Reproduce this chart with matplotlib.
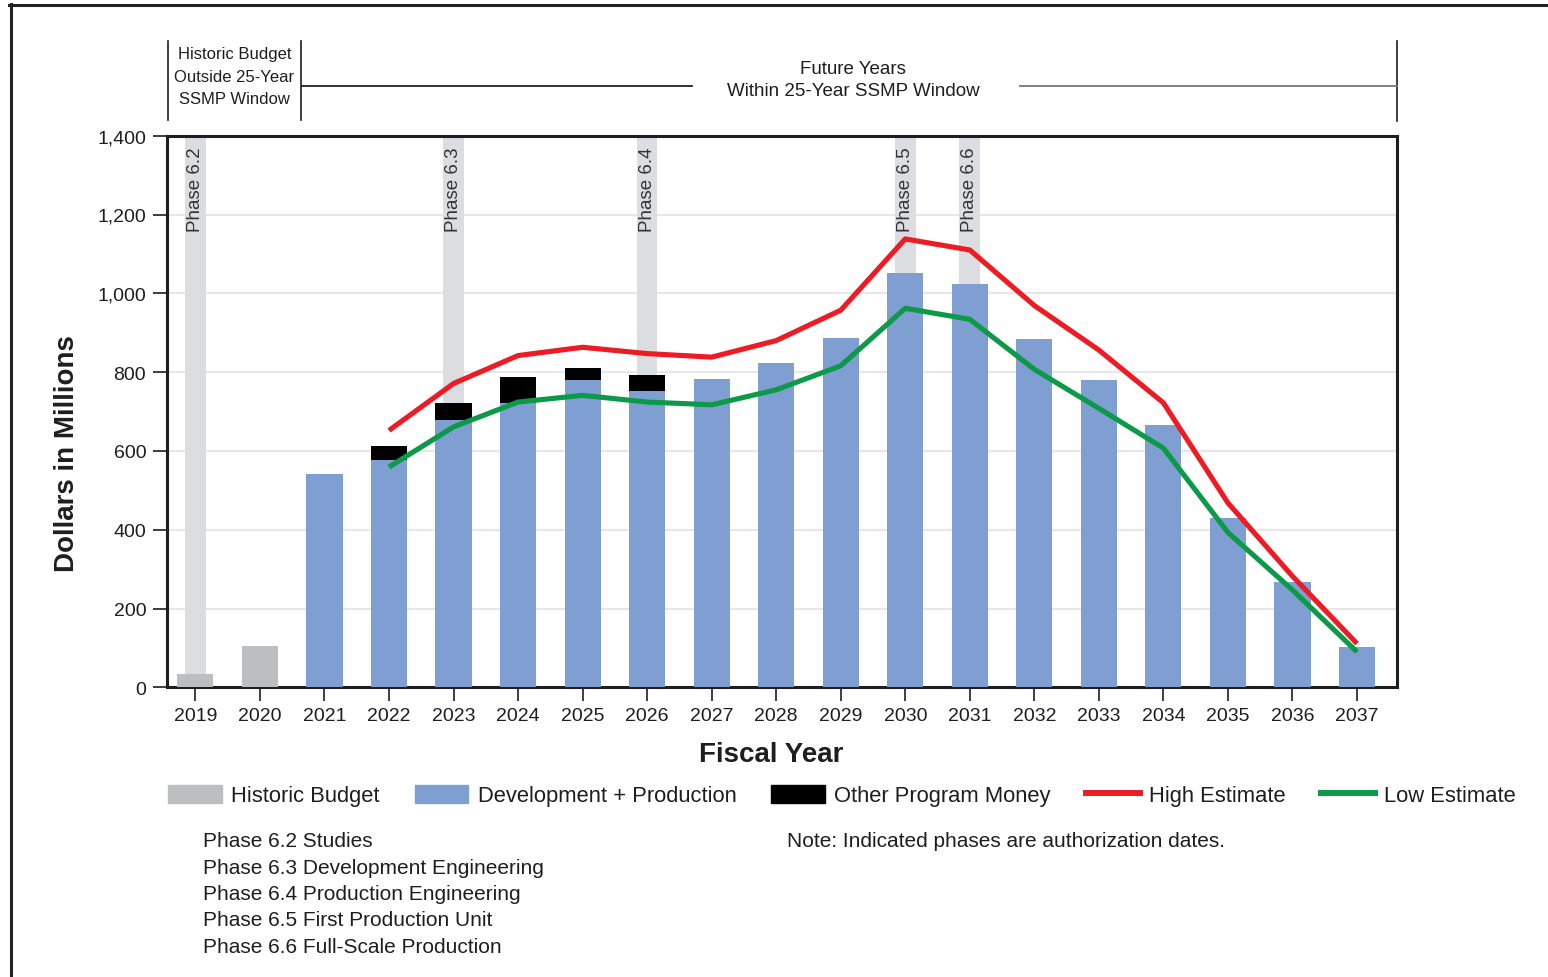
import matplotlib
matplotlib.use("Agg")
import matplotlib.pyplot as plt
from matplotlib.lines import Line2D
from matplotlib.patches import Patch
import numpy as np

plt.rcParams["font.family"] = ["Liberation Sans", "DejaVu Sans"]

# ---- data (millions of dollars) ----
years = [2019, 2020, 2021, 2022, 2023, 2024, 2025, 2026, 2027, 2028,
         2029, 2030, 2031, 2032, 2033, 2034, 2035, 2036, 2037]
historic_budget = [35, 105, 0, 0, 0, 0, 0, 0, 0, 0,
                   0, 0, 0, 0, 0, 0, 0, 0, 0]
dev_production = [0, 0, 541, 577, 679, 721, 780, 752, 782, 823,
                  887, 1051, 1023, 885, 781, 666, 429, 266, 102]
other_program = [0, 0, 0, 36, 42, 66, 30, 40, 0, 0,
                 0, 0, 0, 0, 0, 0, 0, 0, 0]
high_years = [2022, 2023, 2024, 2025, 2026, 2027, 2028, 2029, 2030,
              2031, 2032, 2033, 2034, 2035, 2036, 2037]
high_estimate = [652, 771, 842, 863, 847, 838, 880, 957, 1138,
                 1110, 969, 856, 722, 468, 282, 111]
low_estimate = [559, 661, 724, 741, 724, 717, 755, 816, 962,
                934, 807, 708, 607, 393, 247, 90]
phase_years = [2019, 2023, 2026, 2030, 2031]
phase_labels = ["Phase 6.2", "Phase 6.3", "Phase 6.4", "Phase 6.5", "Phase 6.6"]
phase_notes = ["Phase 6.2 Studies",
               "Phase 6.3 Development Engineering",
               "Phase 6.4 Production Engineering",
               "Phase 6.5 First Production Unit",
               "Phase 6.6 Full-Scale Production"]
yticks = [0, 200, 400, 600, 800, 1000, 1200, 1400]

GRAY_BAR = "#bdbec0"
BAND = "#dcdde0"
BLUE = "#7f9fd3"
RED = "#ed1c24"
GREEN = "#0c9a48"
INK = "#1e1e1e"

W, H = 1548, 978
fig = plt.figure(figsize=(W / 100, H / 100), dpi=100)


def fx(px):
    return px / W


def fy(py):
    return 1 - py / H


ax = fig.add_axes([fx(167), fy(688.3), fx(1397) - fx(167), fy(136.7) - fy(688.3)])

x = np.arange(len(years))
idx = {y: i for i, y in enumerate(years)}
bar_w = 0.56

# phase authorization bands
for py_, lab in zip(phase_years, phase_labels):
    ax.bar(idx[py_], 1400, width=0.32, color=BAND, zorder=1, linewidth=0)
    ax.text(idx[py_], 1372, lab, rotation=90, ha="center", va="top",
            fontsize=13.5, color="#333333", zorder=2)

# stacked bars
ax.bar(x, historic_budget, width=bar_w, color=GRAY_BAR, zorder=3, linewidth=0)
ax.bar(x, dev_production, width=bar_w, color=BLUE, zorder=3, linewidth=0)
ax.bar(x, other_program, width=bar_w, bottom=dev_production, color="black",
       zorder=3, linewidth=0)

# estimate lines
hx = [idx[y] for y in high_years]
ax.plot(hx, high_estimate, color=RED, lw=3.7, zorder=4, solid_capstyle="butt")
ax.plot(hx, low_estimate, color=GREEN, lw=3.7, zorder=5, solid_capstyle="butt")

# axes styling
ax.set_xlim(-0.44, 18.62)
ax.set_ylim(0, 1400)
ax.set_xticks(x)
ax.set_xticklabels([str(y) for y in years], fontsize=14, color=INK)
ax.set_yticks(yticks)
ax.set_yticklabels([f"{v:,}" for v in yticks], fontsize=14, color=INK)
ax.tick_params(axis="both", direction="out", length=10, width=1.2, color=INK)
ax.tick_params(axis="y", pad=5)
ax.tick_params(axis="x", pad=4)
ax.yaxis.grid(True, color="#e7e7e7", lw=1.5, zorder=0)
ax.set_axisbelow(True)
for s in ax.spines.values():
    s.set_linewidth(2.2)
    s.set_color(INK)

ax.set_xlabel("Fiscal Year", fontsize=20, fontweight="bold", color=INK)
ax.xaxis.set_label_coords((771 - 167) / 1230, -0.097)
ax.set_ylabel("Dollars in Millions", fontsize=20, fontweight="bold", color=INK)
ax.yaxis.set_label_coords(-0.0705, 0.425)

# header brackets above the plot
def fline(x0, y0, x1, y1, color=INK, lw=1.2):
    fig.add_artist(Line2D([fx(x0), fx(x1)], [fy(y0), fy(y1)], color=color, lw=lw))

fline(168, 42, 168, 121)
fline(301, 42, 301, 121)
fline(1397, 42, 1397, 122)
fline(302, 87, 692, 87, color="#222222", lw=1.3)
fline(1020, 87, 1397, 87, color="#777777", lw=1.3)

for ty, t in zip([55, 78, 100], ["Historic Budget", "Outside 25-Year", "SSMP Window"]):
    fig.text(fx(234.5), fy(ty), t, ha="center", va="center", fontsize=12, color=INK)
fig.text(fx(853), fy(70), "Future Years", ha="center", va="center", fontsize=13.5, color=INK)
fig.text(fx(853), fy(92), "Within 25-Year SSMP Window", ha="center", va="center",
         fontsize=13.5, color=INK)

# legend
handles = [Patch(color=GRAY_BAR), Patch(color=BLUE), Patch(color="black"),
           Line2D([], [], color=RED, lw=4.3), Line2D([], [], color=GREEN, lw=4.3)]
labels = ["Historic Budget", "Development + Production", "Other Program Money",
          "High Estimate", "Low Estimate"]
fig.legend(handles, labels, loc="center left", bbox_to_anchor=(fx(168), fy(796.5)),
           ncol=5, frameon=False, fontsize=15.8, handlelength=2.45, handleheight=0.93,
           handletextpad=0.42, columnspacing=1.6, borderpad=0, borderaxespad=0,
           labelcolor=INK)

# phase descriptions and note
for i, t in enumerate(phase_notes):
    fig.text(fx(203), fy(842 + i * 26.3), t, ha="left", va="center", fontsize=15, color=INK)
fig.text(fx(787), fy(842), "Note: Indicated phases are authorization dates.",
         ha="left", va="center", fontsize=15, color=INK)

# page frame
fline(9, 5.5, 1548, 5.5, color="#222222", lw=2.2)
fline(10.5, 4.5, 10.5, 978, color="#222222", lw=2.2)

fig.savefig("out.png", dpi=100)
